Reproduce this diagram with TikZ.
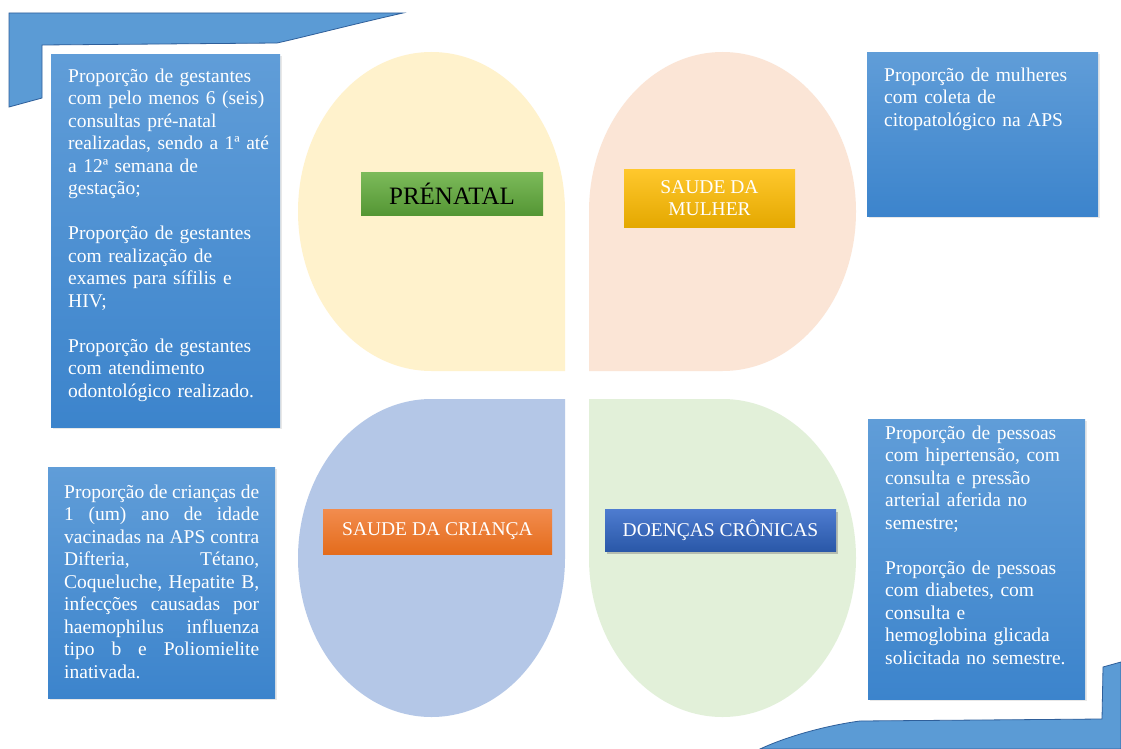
\documentclass[tikz,border=0pt]{standalone}
\usepackage{fontspec}
\setmainfont{Liberation Serif}
\usetikzlibrary{shadows}
\definecolor{petalY}{HTML}{FFF2CC}
\definecolor{petalP}{HTML}{FBE5D6}
\definecolor{petalB}{HTML}{B4C7E7}
\definecolor{petalG}{HTML}{E2F0D9}
\definecolor{boxtop}{RGB}{96,157,216}
\definecolor{boxbot}{RGB}{60,132,204}
\definecolor{cornerblue}{RGB}{91,155,213}
\definecolor{cornerline}{RGB}{47,95,154}
\definecolor{greentop}{RGB}{124,186,90}
\definecolor{greenbot}{RGB}{84,150,52}
\definecolor{goldtop}{RGB}{255,200,45}
\definecolor{goldbot}{RGB}{228,168,0}
\definecolor{orangetop}{RGB}{242,140,78}
\definecolor{orangebot}{RGB}{228,108,28}
\definecolor{dctop}{RGB}{78,124,208}
\definecolor{dcbot}{RGB}{42,88,168}
\newcommand\bodyfont{\fontsize{19.5}{22.5}\selectfont}
\newcommand\jl[1]{\leavevmode\hbox to 195pt{#1}}
\begin{document}
\begin{tikzpicture}[x=1pt,y=-1pt,
  boxbg/.style={anchor=north west, inner sep=0pt, outer sep=0pt, top color=boxtop, bottom color=boxbot, draw=none,
    drop shadow={opacity=0.18, shadow xshift=1.5pt, shadow yshift=-1.5pt}},
  bodytext/.style={anchor=north west, inner sep=0pt, text width=225pt, align=left, font=\bodyfont, text=white},
  lbl/.style={inner sep=0pt, font=\bodyfont, text=white, align=center},
  corner/.style={fill=cornerblue, draw=cornerline, line width=0.8pt}]
\useasboundingbox (0,0) rectangle (1121,749);
\fill[white] (0,0) rectangle (1121,749);

% corner bands
\draw[corner] (9,13) -- (403,13) .. controls (350,25) and (300,38) .. (277,43) -- (42,45) -- (42,98) -- (9,107) -- cycle;
\draw[corner] (760,749) .. controls (790,735) and (830,725) .. (860,721) -- (1102,719) -- (1103,667) -- (1121,662) -- (1121,749) -- cycle;

% petals
\fill[petalY] (431.5,371) arc[start angle=90, end angle=360, x radius=133.5, y radius=159.5] -- (565,371) -- cycle;
\fill[petalP] (589,211.5) arc[start angle=180, end angle=450, x radius=133.5, y radius=159.5] -- (589,371) -- cycle;
\fill[petalB] (565,558) arc[start angle=0, end angle=270, x radius=133.5, y radius=159] -- (565,399) -- cycle;
\fill[petalG] (722.5,399) arc[start angle=270, end angle=540, x radius=133.5, y radius=159] -- (589,399) -- cycle;

% label boxes
\node[lbl, top color=greentop, bottom color=greenbot, minimum width=182pt, minimum height=43pt, text=black, font=\fontsize{25}{28}\selectfont] (pren) at (452,194) {PRÉNATAL};
\node[lbl, top color=goldtop, bottom color=goldbot, minimum width=171pt, minimum height=58pt] (mulher) at (709.5,198) {SAUDE DA\\[-1pt]MULHER};
\node[lbl, top color=orangetop, bottom color=orangebot, minimum width=229pt, minimum height=45pt] (crianca) at (437.5,531.5) {SAUDE DA CRIANÇA};
\node[lbl, top color=dctop, bottom color=dcbot, minimum width=231pt, minimum height=42pt,
  drop shadow={opacity=0.45, shadow xshift=1.5pt, shadow yshift=-3pt}] (dc) at (720.5,530) {DOENÇAS CRÔNICAS};

% text boxes
\node[boxbg, minimum width=229pt, minimum height=372pt] (b1) at (51,55) {};
\node[bodytext] (t1) at (68,66.25) {\strut Proporção de gestantes\\
com pelo menos 6 (seis)\\
consultas pré-natal\\
realizadas, sendo a 1ª até\\
a 12ª semana de\\
gestação;\\[22.5pt]
Proporção de gestantes\\
com realização de\\
exames para sífilis e\\
HIV;\\[22.5pt]
Proporção de gestantes\\
com atendimento\\
odontológico realizado.};

\node[boxbg, minimum width=231pt, minimum height=163pt] (b2) at (867,53) {};
\node[bodytext] (t2) at (884,65.25) {\strut Proporção de mulheres\\
com coleta de\\
citopatológico na APS};

\node[boxbg, minimum width=227pt, minimum height=231pt] (b3) at (48,467) {};
\node[bodytext] (t3) at (64,482.25) {\strut\jl{Proporção\hfill de\hfill crianças\hfill de}\\
\jl{1\hfill (um)\hfill ano\hfill de\hfill idade}\\
\jl{vacinadas\hfill na\hfill APS\hfill contra}\\
\jl{Difteria,\hfill Tétano,}\\
\jl{Coqueluche,\hfill Hepatite\hfill B,}\\
\jl{infecções\hfill causadas\hfill por}\\
\jl{haemophilus\hfill influenza}\\
\jl{tipo\hfill b\hfill e\hfill Poliomielite}\\
inativada.};

\node[boxbg, minimum width=217pt, minimum height=280pt] (b4) at (868,419) {};
\node[bodytext] (t4) at (885,423.25) {\strut Proporção de pessoas\\
com hipertensão, com\\
consulta e pressão\\
arterial aferida no\\
semestre;\\[22.5pt]
Proporção de pessoas\\
com diabetes, com\\
consulta e\\
hemoglobina glicada\\
solicitada no semestre.};
\end{tikzpicture}
\end{document}
